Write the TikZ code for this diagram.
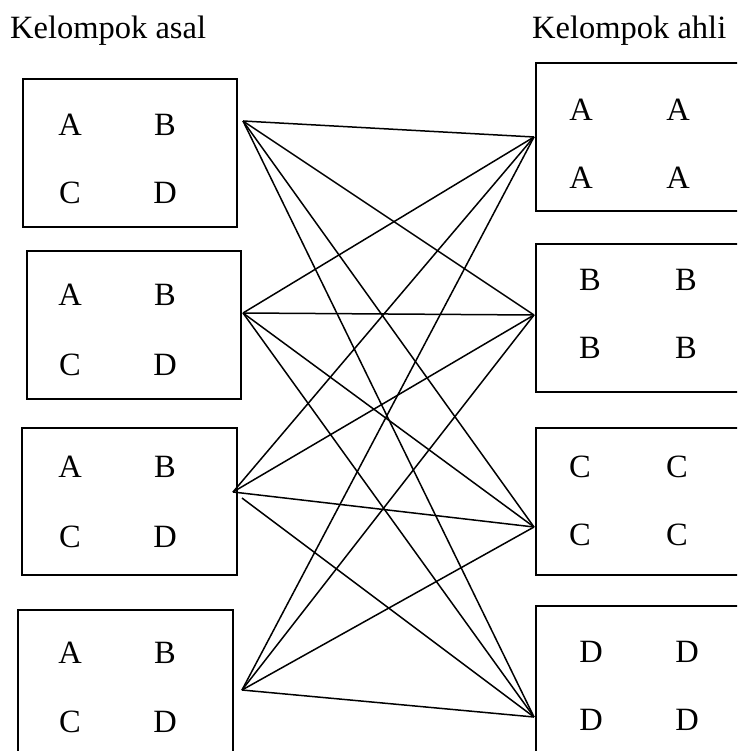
\documentclass[tikz,border=0pt]{standalone}
\usepackage{fontspec}
\setmainfont{Liberation Serif}
\begin{document}
\begin{tikzpicture}[x=1pt,y=-1pt,
  grp/.style={draw=black,line width=1.8pt,rectangle,inner sep=0pt,anchor=north west},
  lbl/.style={inner sep=0pt,font=\fontsize{32.5}{38}\selectfont},
  ttl/.style={inner sep=0pt,anchor=base west,font=\fontsize{32.5}{38}\selectfont},
  link/.style={draw=black,line width=1.5pt}]
\useasboundingbox (0,0) rectangle (737,751);
\clip (0,0) rectangle (737,751);
% titles
\node[ttl] (tasal) at (10,39) {Kelompok asal};
\node[ttl] (tahli) at (532,39) {Kelompok ahli};
% left boxes
\node[grp,minimum width=214pt,minimum height=148pt] (b1) at (22,78) {};
\node[grp,minimum width=214pt,minimum height=148pt] (b2) at (26,250) {};
\node[grp,minimum width=215pt,minimum height=147pt] (b3) at (21,427) {};
\node[grp,minimum width=215pt,minimum height=160pt] (b4) at (17,609) {};
% right boxes
\node[grp,minimum width=220pt,minimum height=148pt] (e1) at (535,62) {};
\node[grp,minimum width=220pt,minimum height=148pt] (e2) at (535,243) {};
\node[grp,minimum width=220pt,minimum height=147pt] (e3) at (535,427) {};
\node[grp,minimum width=220pt,minimum height=160pt] (e4) at (535,605) {};
% left labels
\foreach \i/\y/\z in {1/125/193,2/295/365,3/467/537,4/653/722}{
  \node[lbl] (a\i) at (70,\y) {A};
  \node[lbl] (bb\i) at (165,\y) {B};
  \node[lbl] (c\i) at (70,\z) {C};
  \node[lbl] (d\i) at (165,\z) {D};
}
% right labels
\node[lbl] (ra1) at (581,110) {A}; \node[lbl] (ra2) at (678,110) {A};
\node[lbl] (ra3) at (581,178) {A}; \node[lbl] (ra4) at (678,178) {A};
\node[lbl] (rb1) at (590,280) {B}; \node[lbl] (rb2) at (686,280) {B};
\node[lbl] (rb3) at (590,348) {B}; \node[lbl] (rb4) at (686,348) {B};
\node[lbl] (rc1) at (580,467) {C}; \node[lbl] (rc2) at (677,467) {C};
\node[lbl] (rc3) at (580,535) {C}; \node[lbl] (rc4) at (677,535) {C};
\node[lbl] (rd1) at (591,652) {D}; \node[lbl] (rd2) at (687,652) {D};
\node[lbl] (rd3) at (591,720) {D}; \node[lbl] (rd4) at (687,720) {D};
% connection points
\coordinate (L1) at (243,121);
\coordinate (L2) at (243,313);
\coordinate (L3) at (233,492);
\coordinate (L3b) at (242,498);
\coordinate (L4) at (242,690);
\coordinate (R1) at (534,137);
\coordinate (R2) at (534,315);
\coordinate (R3) at (534,527);
\coordinate (R4) at (534,717);
% connectors
\foreach \l in {L1,L2,L4}{
  \foreach \r in {R1,R2,R3,R4}{
    \draw[link] (\l) -- (\r);
  }
}
\draw[link] (L3) -- (R1);
\draw[link] (L3) -- (R2);
\draw[link] (L3) -- (R3);
\draw[link] (L3b) -- (R4);
\end{tikzpicture}
\end{document}
